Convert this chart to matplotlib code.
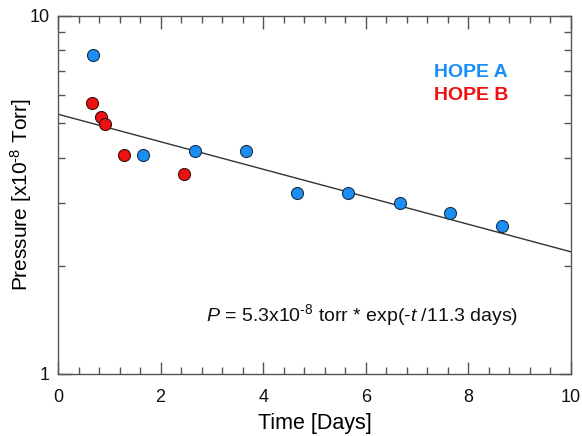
import numpy as np
import matplotlib
matplotlib.use("Agg")
import matplotlib.pyplot as plt
from matplotlib.ticker import FixedLocator, NullFormatter, MultipleLocator, LogLocator

plt.rcParams['font.family'] = ['Liberation Sans', 'DejaVu Sans']
plt.rcParams['mathtext.fontset'] = 'custom'
plt.rcParams['mathtext.rm'] = 'Liberation Sans'
plt.rcParams['mathtext.it'] = 'Liberation Sans:italic'
plt.rcParams['mathtext.bf'] = 'Liberation Sans:bold'

# Data
hope_a_days = [0.68, 1.66, 2.67, 3.66, 4.66, 5.65, 6.66, 7.65, 8.65]
hope_a_pressure = [7.75, 4.09, 4.19, 4.19, 3.19, 3.19, 3.00, 2.80, 2.59]
hope_b_days = [0.67, 0.83, 0.92, 1.29, 2.45]
hope_b_pressure = [5.68, 5.20, 4.99, 4.09, 3.60]
fit_p0 = 5.3
fit_tau = 11.3
x_ticks = [0, 2, 4, 6, 8, 10]
y_ticks = [1, 10]

fig = plt.figure(figsize=(5.82, 4.36), dpi=100)
ax = fig.add_axes([0.0997, 0.1433, 0.8813, 0.8211])

t = np.linspace(0, 10, 200)
ax.plot(t, fit_p0 * np.exp(-t / fit_tau), color='#333333', lw=1.0, zorder=2)

ax.scatter(hope_a_days, hope_a_pressure, s=75, color='#1a8ef5', edgecolor='#1f2f40',
           linewidth=0.8, zorder=3)
ax.scatter(hope_b_days, hope_b_pressure, s=75, color='#ee1111', edgecolor='#3a1010',
           linewidth=0.8, zorder=3)

ax.set_yscale('log')
ax.set_xlim(0, 10)
ax.set_ylim(1, 10)
ax.xaxis.set_major_locator(FixedLocator(x_ticks))
ax.xaxis.set_minor_locator(MultipleLocator(0.4))
ax.yaxis.set_major_locator(FixedLocator(y_ticks))
ax.yaxis.set_minor_locator(LogLocator(base=10, subs=np.arange(2, 10)))
ax.yaxis.set_minor_formatter(NullFormatter())
ax.set_yticklabels([str(v) for v in y_ticks])
ax.set_xticklabels([str(v) for v in x_ticks])

for s in ax.spines.values():
    s.set_color('#555555')
    s.set_linewidth(1.0)
ax.tick_params(which='both', direction='in', top=True, right=True, color='#555555',
               labelsize=13, labelcolor='#111111')
ax.tick_params(which='major', length=9, width=1.0)
ax.tick_params(which='minor', length=5, width=1.0)
ax.tick_params(axis='x', which='major', pad=11)
ax.tick_params(axis='y', which='major', pad=6)

ax.set_xlabel('Time [Days]', fontsize=15.5, labelpad=5)
ax.set_ylabel(r'Pressure [x10$^{\text{-8}}$ Torr]', fontsize=15, labelpad=-3)

ax.text(0.733, 0.842, 'HOPE A', transform=ax.transAxes, color='#1a8ef5',
        fontsize=14, fontweight='bold', va='center', ha='left')
ax.text(0.733, 0.777, 'HOPE B', transform=ax.transAxes, color='#ee1111',
        fontsize=14, fontweight='bold', va='center', ha='left')
ax.text(0.897, 0.163, r'$\it{P}$ = 5.3x10$^{\text{-8}}$ torr * exp(-$\it{t}$ /11.3 days)',
        transform=ax.transAxes, fontsize=14, ha='right', va='center', color='#111111')

fig.savefig('out.png', dpi=100)
